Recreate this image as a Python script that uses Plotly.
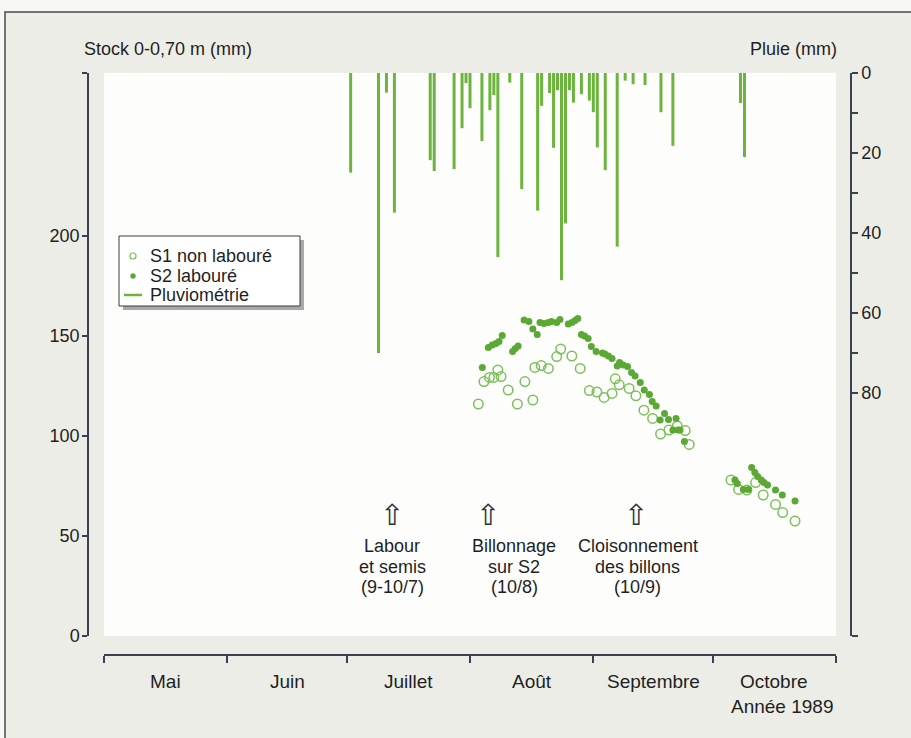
import plotly.graph_objects as go

W, H = 911, 738

# ---------------- data ----------------
# x values are days counted from 1 May 1989
month_labels = ["Mai", "Juin", "Juillet", "Août", "Septembre", "Octobre"]
month_starts = [0, 31, 61, 92, 123, 153, 184]

rain_day = [62, 69, 71, 73, 82, 83, 88, 90, 91, 92, 95, 97, 98, 99, 102, 105,
            109, 110, 112, 113, 114, 115, 116, 117, 118, 120, 122, 123, 124,
            126, 129, 131, 133, 136, 140, 143, 160, 161]
rain_mm = [24.9, 70, 4.9, 34.9, 21.8, 24.5, 24, 13.8, 2.5, 8.8, 17, 9.3, 5.5, 46,
           2.4, 29, 34.4, 8.2, 5, 18.7, 4.3, 51.8, 37.6, 4.3, 7.4, 5.3, 6.9, 9.8,
           18.6, 24.3, 43.4, 1.9, 2.8, 3, 9.8, 18.2, 7.5, 21]

s1_day = [94.1, 95.5, 96.9, 98.0, 99.0, 99.8, 101.6, 103.9, 105.8, 107.8, 108.3,
          109.9, 111.7, 113.8, 114.8, 117.6, 119.7, 122.0, 123.9, 125.7, 127.7,
          128.5, 129.5, 132.0, 133.7, 135.7, 137.9, 139.9, 142.0, 144.1, 146.1,
          147.1, 157.6, 159.5, 161.6, 163.8, 165.7, 168.8, 170.6, 173.7]
s1_val = [116.0, 127.2, 129.3, 129.3, 133.0, 129.7, 123.0, 116.0, 127.2, 118.0,
          134.3, 135.2, 133.8, 139.7, 143.5, 140.0, 133.8, 122.7, 122.0, 119.3,
          121.3, 128.6, 125.6, 123.8, 120.1, 112.9, 108.8, 101.0, 103.0, 105.0,
          102.7, 95.8, 78.0, 73.3, 73.0, 76.7, 70.5, 65.8, 61.7, 57.5]

s2_day = [95.1, 96.6, 97.6, 98.5, 99.3, 100.1, 102.7, 103.4, 104.1, 105.6, 106.8,
          107.8, 108.9, 109.6, 110.6, 111.7, 112.5, 113.8, 114.6, 116.7, 117.6,
          118.4, 119.1, 120.0, 120.8, 121.7, 122.5, 123.7, 125.3, 125.9, 126.8,
          127.7, 129.0, 129.6, 130.5, 131.6, 132.6, 133.5, 134.8, 135.8, 137.1,
          137.8, 138.8, 139.8, 140.9, 141.9, 143.0, 143.8, 144.3, 144.8, 145.9,
          158.6, 159.2, 160.7, 162.0, 162.8, 163.6, 164.3, 165.2, 165.9, 166.8,
          168.8, 170.5, 173.7]
s2_val = [134.2, 144.2, 145.5, 146.3, 147.2, 150.2, 142.2, 143.8, 145.0, 158.0,
          157.2, 153.5, 150.8, 156.7, 156.3, 156.7, 157.2, 156.7, 158.3, 156.0,
          156.7, 157.7, 158.8, 150.8, 150.0, 148.8, 144.7, 142.2, 141.5, 141.0,
          140.0, 138.8, 135.0, 136.7, 135.5, 134.7, 131.7, 130.0, 126.7, 123.0,
          120.8, 117.2, 115.0, 108.0, 111.3, 108.3, 103.0, 108.8, 103.0, 103.0,
          97.2, 78.0, 76.3, 73.3, 73.3, 84.3, 81.7, 79.7, 78.0, 76.7, 75.5, 73.0,
          70.5, 67.5]

stock_ticks = [0, 50, 100, 150, 200]
stock_max = 281.5
rain_ticks = [0, 10, 20, 30, 40, 50, 60, 70, 80]
rain_max = 140.75

legend_labels = ["S1 non labouré", "S2 labouré", "Pluviométrie"]

# (arrow day, text day, text lines)
events = [
    (72.4, 72.4, ["Labour", "et semis", "(9-10/7)"]),
    (96.5, 103.1, ["Billonnage", "sur S2", "(10/8)"]),
    (133.7, 134.2, ["Cloisonnement", "des billons", "(10/9)"]),
]

# ---------------- style ----------------
FONT = "Liberation Sans, Arial, Helvetica, sans-serif"
TXT = "#1f1f1f"
AX = "#3b4150"
G_BAR = "#6db43e"
G_DOT = "#5aa935"
G_RING = "#7cc05a"


def px(x):
    return x / W


def py(y):
    return 1 - y / H


fig = go.Figure()

fig.add_trace(go.Scatter(
    x=s1_day, y=s1_val, mode="markers", name=legend_labels[0],
    marker=dict(symbol="circle-open", size=9.5, color=G_RING, line=dict(width=1.5)),
    yaxis="y", showlegend=False))
fig.add_trace(go.Scatter(
    x=s2_day, y=s2_val, mode="markers", name=legend_labels[1],
    marker=dict(symbol="circle", size=7, color=G_DOT),
    yaxis="y", showlegend=False))

rx, ry = [], []
for d, v in zip(rain_day, rain_mm):
    rx += [d, d, None]
    ry += [0, v, None]
fig.add_trace(go.Scatter(
    x=rx, y=ry, mode="lines", name=legend_labels[2],
    line=dict(color=G_BAR, width=3), yaxis="y2", showlegend=False))

annotations = []


def txt(text, x, y, xanchor="center", size=18, xref="paper", family=FONT, color=TXT):
    annotations.append(dict(text=text, x=x, y=py(y), xref=xref, yref="paper",
                            xanchor=xanchor, yanchor="middle", showarrow=False,
                            font=dict(size=size, color=color, family=family)))


txt("Stock 0-0,70 m (mm)", px(82), 49, "left", 18)
txt("Pluie (mm)", px(839), 49, "right", 18)
txt("Année 1989", px(836), 706, "right", 19)
for i, lab in enumerate(month_labels):
    txt(lab, (month_starts[i] + month_starts[i + 1]) / 2, 681, "center", 19, xref="x")
for ax_, tx_, lines in events:
    txt("⇧", ax_, 515, "center", 29, xref="x", family="DejaVu Sans", color="#2a3142")
    for k, line in enumerate(lines):
        txt(line, tx_, 546 + 20.5 * k, "center", 18, xref="x")

# legend (drawn box)
LEG_X0, LEG_X1, LEG_Y0, LEG_Y1 = 119, 300, 236, 306
rows = [256, 276, 295]
for lab, ry_ in zip(legend_labels, rows):
    txt(lab, px(148), ry_, "left", 18)


def circ(cx, cy, r, fill, line_color, lw):
    return dict(type="circle", xref="paper", yref="paper", x0=px(cx - r), x1=px(cx + r),
                y0=py(cy + r), y1=py(cy - r), fillcolor=fill,
                line=dict(color=line_color, width=lw), layer="above")


shapes = [
    # panel background with frame
    dict(type="rect", xref="paper", yref="paper", x0=px(5), x1=px(915), y0=py(745), y1=py(12),
         fillcolor="#edede8", line=dict(color="#4a4a4a", width=1.5), layer="below"),
    # white plotting area
    dict(type="rect", xref="paper", yref="paper", x0=px(104), x1=px(836), y0=py(636), y1=py(73),
         fillcolor="#fdfdfc", line=dict(width=0), layer="below"),
    # legend shadow + box
    dict(type="rect", xref="paper", yref="paper", x0=px(LEG_X0 + 4), x1=px(LEG_X1 + 4),
         y0=py(LEG_Y1 + 4), y1=py(LEG_Y0 + 4), fillcolor="#a8a8a8", line=dict(width=0),
         layer="above"),
    dict(type="rect", xref="paper", yref="paper", x0=px(LEG_X0), x1=px(LEG_X1),
         y0=py(LEG_Y1), y1=py(LEG_Y0), fillcolor="#ffffff",
         line=dict(color="#3a3a3a", width=1), layer="above"),
    circ(133, rows[0], 3, "rgba(0,0,0,0)", G_RING, 1.2),
    circ(133, rows[1], 2.5, G_DOT, G_DOT, 0.5),
    dict(type="line", xref="paper", yref="paper", x0=px(124), x1=px(142),
         y0=py(rows[2]), y1=py(rows[2]), line=dict(color=G_BAR, width=2.5), layer="above"),
]

fig.update_layout(
    width=W, height=H,
    margin=dict(l=0, r=0, t=0, b=0, autoexpand=False),
    paper_bgcolor="#f7f7f4",
    plot_bgcolor="#fdfdfc",
    font=dict(family=FONT, color=TXT, size=17),
    showlegend=False,
    xaxis=dict(domain=[px(104), px(836)], range=[0, 184], anchor="free", position=py(655),
               showgrid=False, zeroline=False, showline=True, linecolor=AX, linewidth=1.5,
               tickvals=month_starts, ticks="outside", ticklen=7, tickcolor=AX, tickwidth=1.5,
               showticklabels=False, fixedrange=True, automargin=False),
    yaxis=dict(domain=[py(636), py(73)], range=[0, stock_max], anchor="free", position=px(88),
               showgrid=False, zeroline=False, showline=True, linecolor=AX, linewidth=1.5,
               tickvals=stock_ticks + [stock_max],
               ticktext=[str(t) for t in stock_ticks] + [""],
               ticks="outside", ticklen=5, tickcolor=AX, tickwidth=1.5, automargin=False,
               ticklabelstandoff=-1,
               tickfont=dict(size=18, color=TXT, family=FONT)),
    yaxis2=dict(domain=[py(636), py(73)], range=[rain_max, 0], overlaying="y", side="right",
                anchor="free", position=px(851), automargin=False,
                showgrid=False, zeroline=False, showline=True, linecolor=AX, linewidth=1.5,
                tickvals=rain_ticks + [rain_max],
                ticktext=[str(t) if t % 20 == 0 else "" for t in rain_ticks] + [""],
                ticks="outside", ticklen=6, tickcolor=AX, tickwidth=1.5,
                tickfont=dict(size=18, color=TXT, family=FONT)),
    annotations=annotations,
    shapes=shapes,
)

fig.write_html("out.html", config={"displayModeBar": False},
               post_script="document.body.style.margin='0px';document.body.style.overflow='hidden';")
